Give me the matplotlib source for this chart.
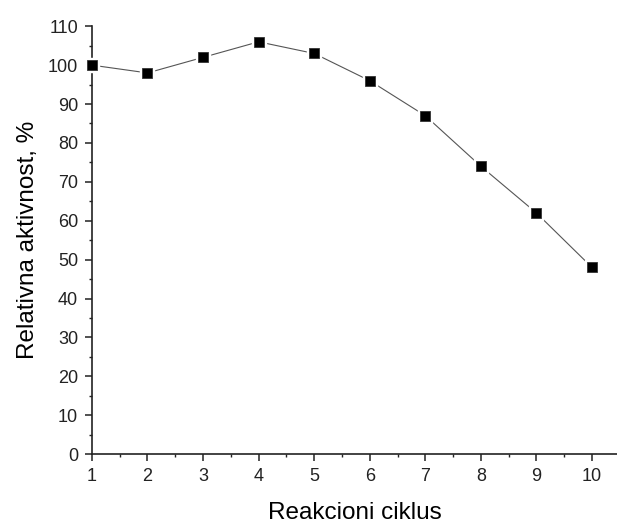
import matplotlib
matplotlib.use("Agg")
import matplotlib.pyplot as plt
from matplotlib.ticker import MultipleLocator

plt.rcParams['font.family'] = ['Liberation Sans', 'DejaVu Sans']

cycles = [1, 2, 3, 4, 5, 6, 7, 8, 9, 10]
activity = [100, 98, 102, 106, 103, 96, 87, 74, 62, 48]
xticks = [1, 2, 3, 4, 5, 6, 7, 8, 9, 10]
yticks = [0, 10, 20, 30, 40, 50, 60, 70, 80, 90, 100, 110]

fig = plt.figure(figsize=(6.17, 5.25), dpi=100)
ax = fig.add_axes([0.149, 0.135, 0.851, 0.815])

ax.plot(cycles, activity, color='#555555', lw=0.8, zorder=2, clip_on=False)
ax.plot(cycles, activity, ls='none', marker='s', ms=10.5, mfc='white', mec='white', zorder=3, clip_on=False)
ax.plot(cycles, activity, ls='none', marker='s', ms=6.5, mfc='black', mec='#333333', mew=0.6, zorder=4, clip_on=False)

ax.set_xlim(1, 10.45)
ax.set_ylim(0, 110)
ax.set_xticks(xticks)
ax.set_yticks(yticks)
ax.xaxis.set_minor_locator(MultipleLocator(0.5))
ax.yaxis.set_minor_locator(MultipleLocator(5))

for s in ['top', 'right']:
    ax.spines[s].set_visible(False)
for s in ['left', 'bottom']:
    ax.spines[s].set_linewidth(1.2)
    ax.spines[s].set_color('#222222')

ax.tick_params(which='major', direction='out', length=5, width=1.1, labelsize=13, colors='#222222')
ax.tick_params(axis='x', which='major', pad=5)
ax.tick_params(axis='y', which='major', pad=5)
ax.tick_params(which='minor', direction='out', length=2.5, width=1.0, colors='#222222')

ax.set_xlabel('Reakcioni ciklus', fontsize=17.5, labelpad=12)
ax.set_ylabel('Relativna aktivnost, %', fontsize=17.5, labelpad=6)

fig.savefig('out.png', dpi=100)
